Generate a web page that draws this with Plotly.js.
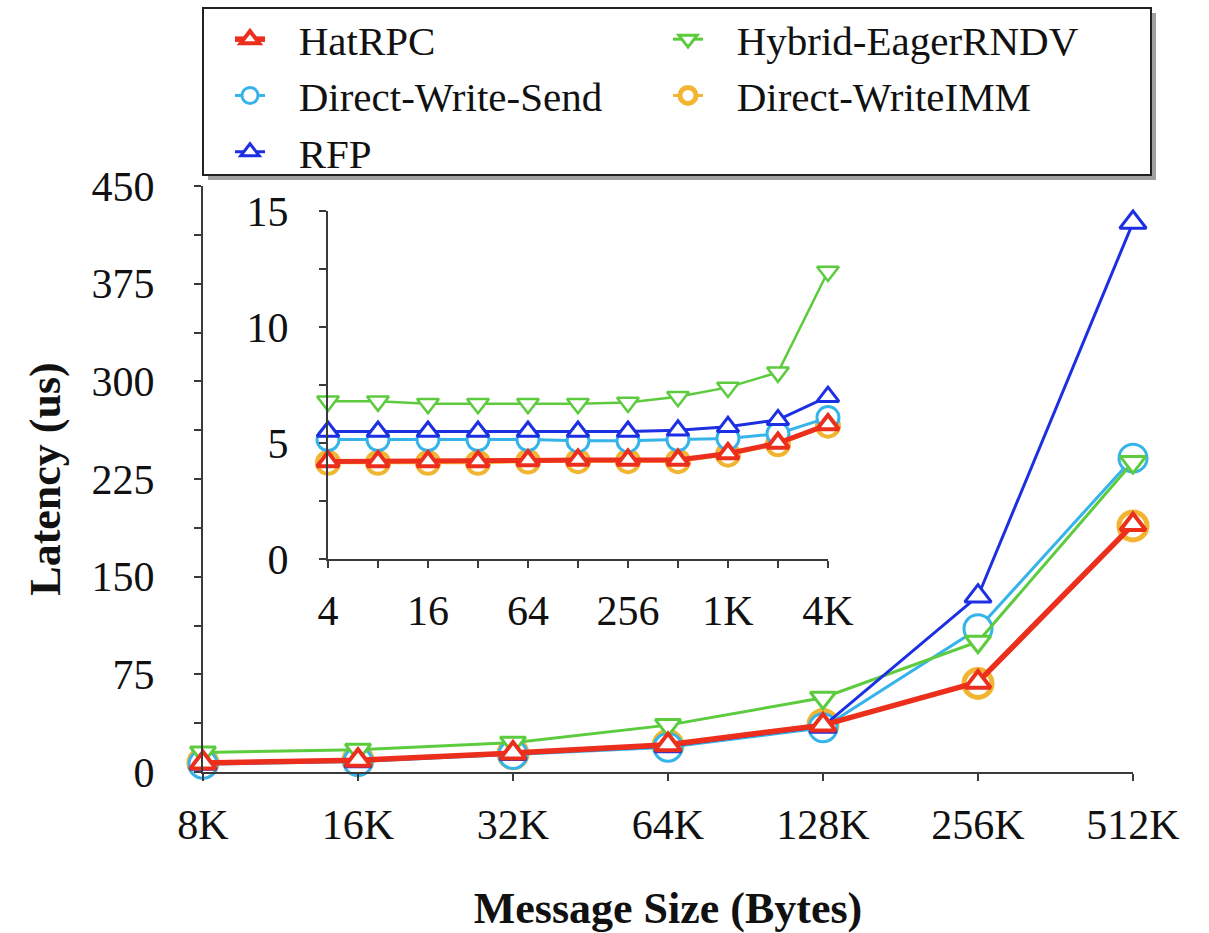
<!DOCTYPE html>
<html>
<head>
<meta charset="utf-8">
<script src="https://cdn.plot.ly/plotly-3.0.1.min.js"></script>
<style>html,body{margin:0;padding:0;background:#fff;}#chart{width:1209px;height:933px;}</style>
</head>
<body>
<div id="chart"></div>
<script>
// ---- data (main chart) ----
const mainSizes = ['8K','16K','32K','64K','128K','256K','512K'];
const mainHatRPC = [7, 9, 14.5, 21, 36, 69, 190];
const mainDirectWriteSend = [6, 8, 13.5, 19, 34, 110, 241];
const mainRFP = [6.5, 8.5, 14, 20, 35, 135, 422];
const mainHybrid = [15, 17, 22.5, 36, 57, 100, 238];
const mainDirectWriteIMM = [7, 9, 14, 20.5, 36.5, 68, 189];

// ---- data (inset) ----
const insetSizes = ['4','8','16','32','64','128','256','512','1K','2K','4K'];
const insetLabels = ['4','','16','','64','','256','','1K','','4K'];
const insetHatRPC = [4.2, 4.2, 4.2, 4.2, 4.25, 4.27, 4.27, 4.27, 4.55, 5.0, 5.8];
const insetDirectWriteSend = [5.15, 5.15, 5.15, 5.15, 5.15, 5.1, 5.1, 5.15, 5.2, 5.4, 6.1];
const insetRFP = [5.5, 5.5, 5.5, 5.5, 5.5, 5.5, 5.5, 5.55, 5.7, 6.0, 7.0];
const insetHybrid = [6.8, 6.8, 6.7, 6.7, 6.7, 6.7, 6.75, 7.0, 7.4, 8.05, 12.4];
const insetDirectWriteIMM = [4.15, 4.15, 4.15, 4.15, 4.2, 4.22, 4.22, 4.22, 4.5, 4.95, 5.75];

const seriesNames = ['HatRPC', 'Hybrid-EagerRNDV', 'Direct-Write-Send', 'Direct-WriteIMM', 'RFP'];

const C = {
  hat: '#ec2f1c', dws: '#36b4ea', rfp: '#1c2fe2', hyb: '#5ccb3e', imm: '#f1b532'
};
const FONT = 'Liberation Serif, Times New Roman, serif';
const PAD = '\u2002\u2009'; // gap between legend symbol and label

function tr(name, x, y, color, symbol, lw, msize, mlw, inset) {
  return {
    type: 'scatter', mode: 'lines+markers', name: PAD + name, x: x, y: y,
    xaxis: inset ? 'x2' : 'x', yaxis: inset ? 'y2' : 'y',
    line: {color: color, width: lw},
    marker: {symbol: symbol, size: msize, color: '#ffffff', line: {color: color, width: mlw}},
    legendrank: seriesNames.indexOf(name) + 1, showlegend: !inset, cliponaxis: false,
    hovertemplate: name + ': %{y}<extra></extra>'
  };
}

const data = [
  tr('Direct-WriteIMM', mainSizes, mainDirectWriteIMM, C.imm, 'circle', 3, 28, 5, false),
  tr('Direct-Write-Send', mainSizes, mainDirectWriteSend, C.dws, 'circle', 3, 28, 3, false),
  tr('Hybrid-EagerRNDV', mainSizes, mainHybrid, C.hyb, 'triangle-down', 3, 22, 3, false),
  tr('RFP', mainSizes, mainRFP, C.rfp, 'triangle-up', 3, 23, 3, false),
  tr('HatRPC', mainSizes, mainHatRPC, C.hat, 'triangle-up', 5.5, 22, 4, false),

  tr('Direct-WriteIMM', insetSizes, insetDirectWriteIMM, C.imm, 'circle', 3, 22, 4, true),
  tr('Direct-Write-Send', insetSizes, insetDirectWriteSend, C.dws, 'circle', 3, 22, 3, true),
  tr('Hybrid-EagerRNDV', insetSizes, insetHybrid, C.hyb, 'triangle-down', 2.5, 19, 2.5, true),
  tr('RFP', insetSizes, insetRFP, C.rfp, 'triangle-up', 3, 19, 3, true),
  tr('HatRPC', insetSizes, insetHatRPC, C.hat, 'triangle-up', 5, 19, 4, true)
];

const axLine = '#3a3a3a';
const tickFont = {family: FONT, size: 42, color: '#111'};

const layout = {
  width: 1209, height: 933,
  margin: {l: 203, r: 76, t: 186, b: 161, autoexpand: false},
  paper_bgcolor: '#ffffff', plot_bgcolor: '#ffffff',
  font: {family: FONT, color: '#111'},
  showlegend: true,
  xaxis: {
    type: 'category', categoryorder: 'array', categoryarray: mainSizes,
    range: [0, 6], showgrid: false, zeroline: false,
    showline: true, linecolor: axLine, linewidth: 2,
    ticks: 'outside', ticklen: 7, tickwidth: 2, tickcolor: axLine,
    tickfont: tickFont, ticklabelstandoff: 8,
    title: {text: '<b>Message Size (Bytes)</b>', font: {family: FONT, size: 44, color: '#111'}, standoff: 46}
  },
  yaxis: {
    range: [0, 450], tick0: 0, dtick: 75, showgrid: false, zeroline: false,
    showline: true, linecolor: axLine, linewidth: 2,
    ticks: 'outside', ticklen: 7, tickwidth: 2, tickcolor: axLine,
    minor: {dtick: 37.5, ticks: 'outside', ticklen: 7, tickwidth: 2, tickcolor: axLine},
    tickfont: tickFont, ticklabelstandoff: 31,
    title: {text: '<b>Latency (us)</b>', font: {family: FONT, size: 44, color: '#111'}, standoff: 17}
  },
  xaxis3: {
    overlaying: 'x', anchor: 'y', type: 'linear', range: [0, 6], tick0: 0, dtick: 1,
    showgrid: false, zeroline: false, showline: false, showticklabels: false,
    ticks: 'inside', ticklen: 7, tickwidth: 2, tickcolor: axLine
  },
  yaxis3: {
    overlaying: 'y', anchor: 'x', type: 'linear', range: [0, 450], tick0: 0, dtick: 75,
    showgrid: false, zeroline: false, showline: false, showticklabels: false,
    ticks: 'inside', ticklen: 7, tickwidth: 2, tickcolor: axLine,
    minor: {dtick: 37.5, ticks: 'inside', ticklen: 7, tickwidth: 2, tickcolor: axLine}
  },
  xaxis2: {
    domain: [0.1344, 0.672], anchor: 'y2',
    type: 'category', categoryorder: 'array', categoryarray: insetSizes,
    range: [0, 10], showgrid: false, zeroline: false,
    showline: true, linecolor: axLine, linewidth: 2,
    tickmode: 'array', tickvals: insetSizes, ticktext: insetLabels,
    ticks: 'outside', ticklen: 7, tickwidth: 2, tickcolor: axLine,
    tickfont: tickFont, ticklabelstandoff: 7
  },
  yaxis2: {
    domain: [0.3635, 0.957], anchor: 'x2',
    range: [0, 15], tick0: 0, dtick: 5, showgrid: false, zeroline: false,
    showline: true, linecolor: axLine, linewidth: 2,
    ticks: 'outside', ticklen: 7, tickwidth: 2, tickcolor: axLine,
    minor: {dtick: 2.5, ticks: 'outside', ticklen: 7, tickwidth: 2, tickcolor: axLine},
    tickfont: tickFont, ticklabelstandoff: 22
  },
  xaxis4: {
    overlaying: 'x2', anchor: 'y2', type: 'linear', range: [0, 10], tick0: 0, dtick: 1,
    showgrid: false, zeroline: false, showline: false, showticklabels: false,
    ticks: 'inside', ticklen: 7, tickwidth: 2, tickcolor: axLine
  },
  yaxis4: {
    overlaying: 'y2', anchor: 'x2', type: 'linear', range: [0, 15], tick0: 0, dtick: 5,
    showgrid: false, zeroline: false, showline: false, showticklabels: false,
    ticks: 'inside', ticklen: 7, tickwidth: 2, tickcolor: axLine,
    minor: {dtick: 2.5, ticks: 'inside', ticklen: 7, tickwidth: 2, tickcolor: axLine}
  },
  legend: {
    orientation: 'h', x: 0, xanchor: 'left', y: (772 - 6) / 586, yanchor: 'top',
    xref: 'paper', yref: 'paper',
    entrywidth: 366, entrywidthmode: 'pixels',
    itemwidth: 30, indentation: 27,
    font: {family: FONT, size: 41, color: '#111'},
    bgcolor: 'rgba(0,0,0,0)', borderwidth: 0,
    itemclick: false, itemdoubleclick: false
  },
  shapes: [
    { // drop shadow
      type: 'rect', xref: 'paper', yref: 'paper', layer: 'above',
      x0: (208 - 203) / 930, x1: (1156 - 203) / 930,
      y0: (772 - 180) / 586, y1: (772 - 13) / 586,
      fillcolor: '#a0a0a0', line: {width: 0}
    },
    { // legend box
      type: 'rect', xref: 'paper', yref: 'paper', layer: 'above',
      x0: 0, x1: (1151 - 203) / 930,
      y0: (772 - 175) / 586, y1: (772 - 8) / 586,
      fillcolor: '#ffffff', line: {color: '#222', width: 2}
    }
  ]
};

Plotly.newPlot('chart', data, layout, {staticPlot: true, displayModeBar: false});
</script>
</body>
</html>
